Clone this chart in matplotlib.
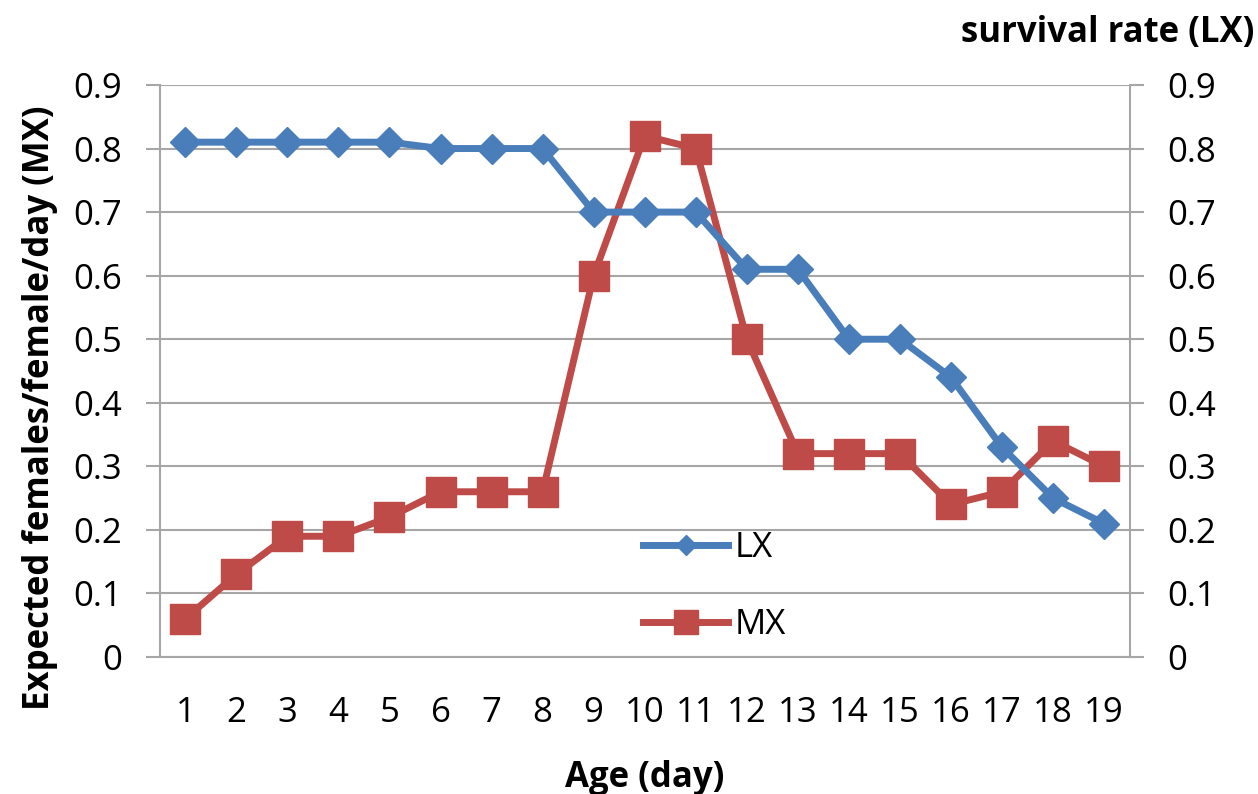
import matplotlib
matplotlib.use("Agg")
import matplotlib.pyplot as plt
from matplotlib.ticker import MultipleLocator

plt.rcParams['font.family'] = ['Open Sans', 'DejaVu Sans']

ages = list(range(1, 20))
age_labels = [str(a) for a in ages]
lx = [0.81, 0.81, 0.81, 0.81, 0.81, 0.80, 0.80, 0.80, 0.70, 0.70, 0.70,
      0.61, 0.61, 0.50, 0.50, 0.44, 0.33, 0.25, 0.21]
mx = [0.06, 0.13, 0.19, 0.19, 0.22, 0.26, 0.26, 0.26, 0.60, 0.82, 0.80,
      0.50, 0.32, 0.32, 0.32, 0.24, 0.26, 0.34, 0.30]

blue = '#4A7EBB'
red = '#BE4B48'
grid_c = '#A6A6A6'

fmt = plt.FuncFormatter(lambda v, p: '0' if abs(v) < 1e-9 else f'{v:.1f}')

fig = plt.figure(figsize=(12.58, 7.94), dpi=100)
ax = fig.add_axes([0.127, 0.1725, 0.771, 0.7205])
ax2 = ax.twinx()

for a in (ax, ax2):
    a.set_ylim(0, 0.9)
    a.yaxis.set_major_locator(MultipleLocator(0.1))
    a.yaxis.set_major_formatter(fmt)
    for s in a.spines.values():
        s.set_visible(False)
    a.tick_params(axis='y', labelsize=25, length=10, width=1.5, color=grid_c, pad=17)

for a, side in ((ax, 'left'), (ax2, 'right'), (ax, 'bottom')):
    a.spines[side].set_visible(True)
    a.spines[side].set_color(grid_c)
    a.spines[side].set_linewidth(1.5)

ax.grid(axis='y', color=grid_c, linewidth=1.5)
ax.set_axisbelow(True)

ax.set_xlim(0.5, 19.5)
ax.set_xticks(ages)
ax.set_xticklabels(age_labels)
ax.tick_params(axis='x', labelsize=25, length=0, pad=28)

l2, = ax2.plot(ages, mx, color=red, marker='s', markersize=21, linewidth=5,
               label='MX', zorder=3)
l1, = ax2.plot(ages, lx, color=blue, marker='D', markersize=15, linewidth=5,
               label='LX', zorder=4)

leg = ax2.legend(handles=[l1, l2], loc='upper left', bbox_to_anchor=(0.466, 0.275),
                 frameon=False, fontsize=25, handlelength=2.45, labelspacing=1.25,
                 handletextpad=0.2)
leg.legend_handles[0].set_markersize(10)
leg.legend_handles[1].set_markersize(17)

ax.set_ylabel('Expected females/female/day (MX)', fontsize=25, fontweight='bold')
ax.yaxis.set_label_coords(-0.105, 0.435)
ax.set_xlabel('Age (day)', fontsize=25, fontweight='bold')
ax.xaxis.set_label_coords(0.5, -0.18)
fig.text(0.997, 0.958, 'survival rate (LX)', fontsize=25, fontweight='bold', ha='right', va='center')

fig.savefig('out.png', dpi=100)
